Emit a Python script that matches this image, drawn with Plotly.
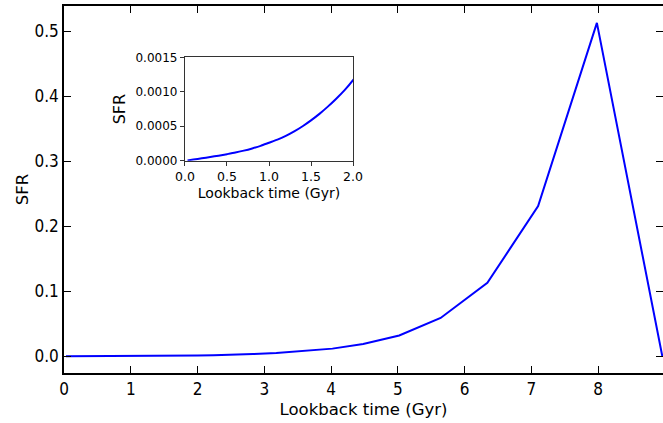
import plotly.graph_objects as go

# Lookback time (Gyr) and star formation rate
lookback_time = [0.03, 0.1, 0.2, 0.3, 0.4, 0.5, 0.6, 0.7, 0.8, 0.9, 1.0,
                 1.1, 1.2, 1.3, 1.4, 1.5, 1.6, 1.7, 1.8, 1.9, 2.0,
                 2.24, 2.52, 2.83, 3.18, 3.57, 4.02, 4.48, 5.02, 5.64, 6.34,
                 7.10, 7.98, 8.96]
sfr = [0.000004, 0.000016, 0.000034, 0.000053, 0.000073, 0.000095, 0.000118,
       0.000146, 0.000178, 0.000215, 0.00026,
       0.000305, 0.00036, 0.000425, 0.0005, 0.000585, 0.00068, 0.000785, 0.0009,
       0.001025, 0.00117,
       0.0016, 0.0023, 0.0034, 0.0052, 0.0078, 0.0118, 0.019, 0.032, 0.059, 0.113,
       0.231, 0.513, 0.0]

main_xticks = [0, 1, 2, 3, 4, 5, 6, 7, 8, 9]
main_yticks = [0.0, 0.1, 0.2, 0.3, 0.4, 0.5]
inset_xticks = [0.0, 0.5, 1.0, 1.5, 2.0]
inset_yticks = [0.0, 0.0005, 0.0010, 0.0015]

COND = "DejaVu Sans Condensed, DejaVu Sans, sans-serif"
SANS = "DejaVu Sans, sans-serif"
BLUE = "#0000ff"

fig = go.Figure()
fig.add_trace(go.Scatter(x=lookback_time, y=sfr, mode="lines",
                         line=dict(color=BLUE, width=2), xaxis="x", yaxis="y",
                         showlegend=False, hoverinfo="skip"))
fig.add_trace(go.Scatter(x=lookback_time, y=sfr, mode="lines",
                         line=dict(color=BLUE, width=2, shape="spline", smoothing=0.6),
                         xaxis="x2", yaxis="y2",
                         showlegend=False, hoverinfo="skip"))

fig.update_layout(
    width=663, height=423,
    margin=dict(l=64, r=0, t=6, b=50, pad=0),
    paper_bgcolor="white", plot_bgcolor="white",
    font=dict(family=SANS, color="black"),
    xaxis=dict(domain=[0, 1], range=[0, 8.97], tickvals=main_xticks,
               ticktext=[str(v) for v in main_xticks], automargin=False,
               showline=True, linecolor="black", linewidth=1.5, mirror="ticks",
               ticks="inside", ticklen=7, tickwidth=1.2, tickcolor="black",
               showgrid=False, zeroline=False,
               tickfont=dict(size=17, family=COND),
               title=dict(text="Lookback time (Gyr)", font=dict(size=16.5, family=SANS),
                          standoff=5)),
    yaxis=dict(domain=[0, 1], range=[-0.0257, 0.539], tickvals=main_yticks,
               ticktext=["%.1f" % v for v in main_yticks], automargin=False,
               showline=True, linecolor="black", linewidth=1.5, mirror="ticks",
               ticks="inside", ticklen=7, tickwidth=1.2, tickcolor="black",
               showgrid=False, zeroline=False,
               tickfont=dict(size=17, family=COND),
               title=dict(text="SFR", font=dict(size=16.5, family=SANS), standoff=2)),
    xaxis2=dict(domain=[0.202, 0.4825], anchor="y2", range=[0, 2],
                tickvals=inset_xticks, ticktext=["%.1f" % v for v in inset_xticks],
                automargin=False,
                showline=True, linecolor="#333333", linewidth=1.2, mirror=True,
                ticks="outside", ticklen=4, tickwidth=1, tickcolor="#333333",
                showgrid=False, zeroline=False,
                tickfont=dict(size=12.5, family=SANS),
                title=dict(text="Lookback time (Gyr)", font=dict(size=14, family=SANS),
                           standoff=5)),
    yaxis2=dict(domain=[0.5785, 0.860], anchor="x2", range=[0, 0.0015],
                tickvals=inset_yticks, ticktext=["%.4f" % v for v in inset_yticks],
                automargin=False,
                showline=True, linecolor="#333333", linewidth=1.2, mirror=True,
                ticks="outside", ticklen=4, tickwidth=1, tickcolor="#333333",
                showgrid=False, zeroline=False,
                tickfont=dict(size=12, family=SANS),
                title=dict(text="SFR", font=dict(size=16, family=SANS), standoff=5)),
)

fig.write_html("out.html")
